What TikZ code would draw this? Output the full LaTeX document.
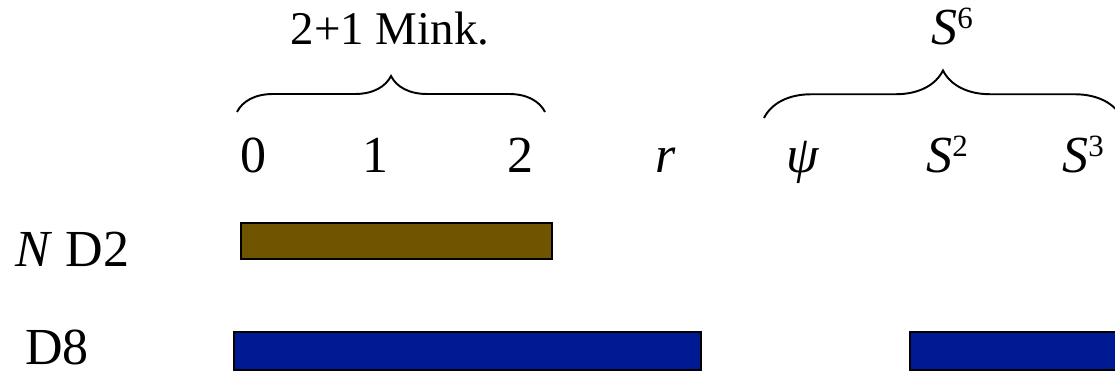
\documentclass[tikz,border=0pt]{standalone}
\usepackage{fontspec}
\setmainfont{Liberation Serif}
\usepackage{tikz}
\usetikzlibrary{decorations.pathreplacing,positioning}
\definecolor{dtwobrown}{RGB}{112,84,0}
\definecolor{deightblue}{RGB}{0,26,148}

\newcommand{\sphlab}[1]{\textit{S}\raisebox{0.31em}{\fontsize{17.6}{18}\selectfont #1}}

\begin{document}
\begin{tikzpicture}[x=0.02cm, y=-0.02cm,
    lab/.style={font=\fontsize{29.6}{32}\selectfont, anchor=base, inner sep=0pt},
    bar/.style={draw=black, line width=0.8pt},
    brc/.style={decorate, decoration={brace, amplitude=#1}, line width=1.1pt}]
    \clip (0,0) rectangle (1115,377);

    % Braces over the two groups
    \coordinate (b1l) at (237,112);
    \coordinate (b1r) at (545,112);
    \coordinate (b2l) at (764,118);
    \coordinate (b2r) at (1122,118);
    \draw[brc=0.72cm] (b1l) -- (b1r);
    \draw[brc=0.95cm] (b2l) -- (b2r);
    \node[lab, font=\fontsize{26.7}{30}\selectfont] (mink) at (390,45) {2+1 Mink.};
    \node[lab] (sixsph) at (952,45) {\sphlab{6}};

    % Coordinate labels
    \node[lab] (t0) at (253,173) {0};
    \node[lab] (t1) at (375,173) {1};
    \node[lab] (t2) at (520,173) {2};
    \node[lab] (rlab) at (666,173) {\textit{r}};
    \node[lab] (psilab) at (803,173) {\textit{ψ}};
    \node[lab] (stwo) at (947,173) {\sphlab{2}};
    \node[lab] (sthree) at (1083,173) {\sphlab{3}};

    % Branes
    \node[lab, anchor=base west] (ndtwo) at (15,267) {\textit{N} D2};
    \node[lab, anchor=base west] (deight) at (25,365) {D8};
    \draw[bar, fill=dtwobrown] (241,223) rectangle (552,259);
    \draw[bar, fill=deightblue] (234,332) rectangle (701,370);
    \draw[bar, fill=deightblue] (910,332) rectangle (1130,370);
\end{tikzpicture}
\end{document}
